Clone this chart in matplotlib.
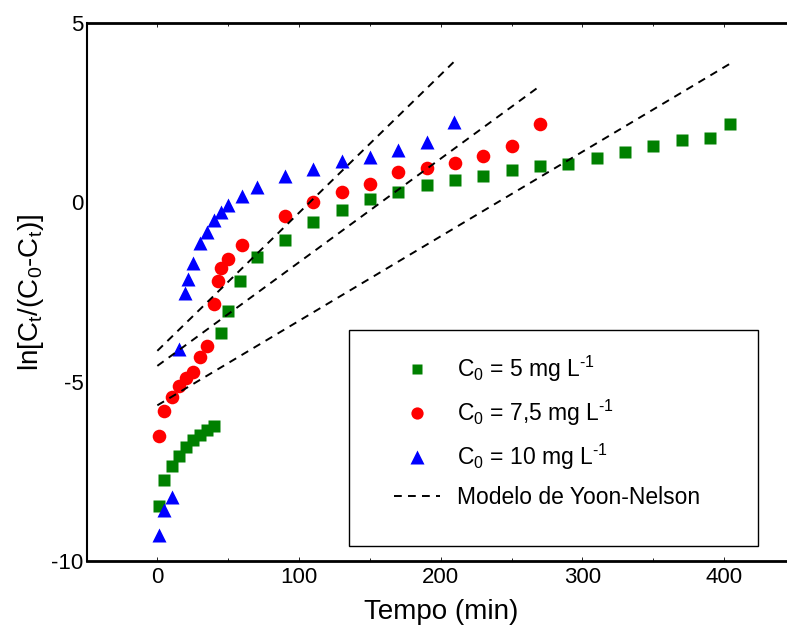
import numpy as np
import matplotlib.pyplot as plt
from matplotlib.patches import Rectangle
from matplotlib.ticker import MultipleLocator

plt.rcParams['font.family'] = ['Liberation Sans', 'DejaVu Sans']
plt.rcParams['mathtext.fontset'] = 'custom'
plt.rcParams['mathtext.rm'] = 'Liberation Sans'
plt.rcParams['mathtext.it'] = 'Liberation Sans:italic'
plt.rcParams['mathtext.default'] = 'regular'
plt.rcParams['axes.unicode_minus'] = False

# Experimental breakthrough data, ln[Ct/(C0-Ct)] vs time (min)
t_5 = [1, 5, 10, 15, 20, 25, 30, 35, 40, 45, 50, 58, 70, 90, 110, 130, 150, 170,
       190, 210, 230, 250, 270, 290, 310, 330, 350, 370, 390, 404]
y_5 = [-8.46, -7.75, -7.34, -7.06, -6.83, -6.64, -6.48, -6.35, -6.24, -3.63,
       -3.02, -2.19, -1.53, -1.05, -0.54, -0.21, 0.08, 0.28, 0.49, 0.62, 0.74,
       0.91, 1.02, 1.07, 1.25, 1.39, 1.56, 1.74, 1.80, 2.19]

t_75 = [1, 5, 10, 15, 20, 25, 30, 35, 40, 42.5, 45, 50, 60, 90, 110, 130, 150,
        170, 190, 210, 230, 250, 270]
y_75 = [-6.51, -5.82, -5.42, -5.11, -4.89, -4.72, -4.30, -4.01, -2.84, -2.19,
        -1.84, -1.57, -1.19, -0.38, 0.02, 0.29, 0.51, 0.84, 0.96, 1.09, 1.29,
        1.56, 2.19]

t_10 = [1, 5, 10, 15, 19.5, 21.5, 25, 30, 35, 40, 45, 50, 60, 70, 90, 110, 130,
        150, 170, 190, 209]
y_10 = [-9.28, -8.58, -8.21, -4.10, -2.54, -2.15, -1.70, -1.14, -0.82, -0.49,
        -0.28, -0.08, 0.18, 0.43, 0.74, 0.93, 1.16, 1.27, 1.46, 1.69, 2.25]

# Yoon-Nelson fits: ln[Ct/(C0-Ct)] = k*t - k*tau  (slope, intercept, time span)
yn_slope = [0.02357, 0.0289, 0.0385]
yn_icept = [-5.66, -4.56, -4.14]
yn_tmax = [404, 270, 209]

fig = plt.figure(figsize=(7.87, 6.37), dpi=100)
ax = fig.add_axes([86.5 / 787, 76 / 637, 708.5 / 787, 538 / 637])

ax.plot(t_5, y_5, 's', color='#008000', ms=8.6, mec='none',
        label=r'C$_0$ = 5 mg L$^{\text{-1}}$')
ax.plot(t_75, y_75, 'o', color='#FF0000', ms=9.8, mec='none',
        label=r'C$_0$ = 7,5 mg L$^{\text{-1}}$')
ax.plot(t_10, y_10, '^', color='#0000FF', ms=10.5, mec='none',
        label=r'C$_0$ = 10 mg L$^{\text{-1}}$')

for i, (k, b, tm) in enumerate(zip(yn_slope, yn_icept, yn_tmax)):
    tt = np.linspace(0, tm, 50)
    ax.plot(tt, k * tt + b, color='black', lw=1.4, dashes=(4, 3.2), zorder=3,
            label='Modelo de Yoon-Nelson' if i == 0 else None)

ax.set_xlim(-50, 450)
ax.set_ylim(-10, 5)
ax.xaxis.set_major_locator(MultipleLocator(100))
ax.xaxis.set_minor_locator(MultipleLocator(50))
ax.set_yticks([-10, -5, 0, 5])
ax.tick_params(axis='both', which='both', direction='in', labelsize=16,
               top=True, width=0.6)
ax.tick_params(axis='both', which='major', length=3, pad=4)
ax.tick_params(axis='both', which='minor', length=2)
ax.tick_params(axis='y', length=0, pad=2)
ax.spines['top'].set_linewidth(2)
ax.spines['bottom'].set_linewidth(2)
ax.spines['left'].set_linewidth(1.5)

ax.set_xlabel('Tempo (min)', fontsize=20, labelpad=8)
ax.set_ylabel(r'ln[C$_t$/(C$_0$-C$_t$)]', fontsize=20, labelpad=4)

leg = ax.legend(loc='upper left', bbox_to_anchor=(394 / 787, 1 - 354 / 637),
                bbox_transform=fig.transFigure, frameon=False, fontsize=16.5,
                handlelength=2.0, handletextpad=0.75, labelspacing=0.6,
                borderpad=0, borderaxespad=0, numpoints=1, markerscale=0.9)
ax.add_patch(Rectangle((349 / 787, 91 / 637), 409 / 787, 216 / 637,
                       transform=fig.transFigure, fill=False, lw=1.0,
                       edgecolor='black'))

fig.savefig('out.png', dpi=100)
